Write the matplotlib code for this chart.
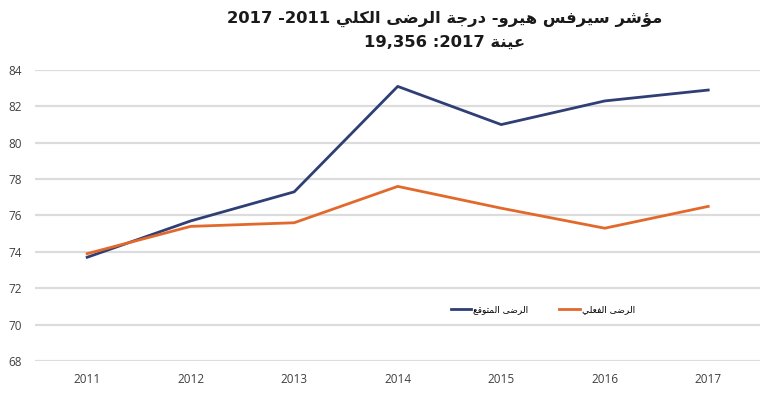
import numpy as np
import matplotlib
matplotlib.use('Agg')
import matplotlib.pyplot as plt

# data
years = ['2011', '2012', '2013', '2014', '2015', '2016', '2017']
expected = [73.7, 75.7, 77.3, 83.1, 81.0, 82.3, 82.9]   # الرضى المتوقع
actual = [73.9, 75.4, 75.6, 77.6, 76.4, 75.3, 76.5]     # الرضى الفعلي
y_ticks = [68, 70, 72, 74, 76, 78, 80, 82, 84]

title_1 = 'مؤشر سيرفس هيرو- درجة الرضى الكلي 2011- 2017'
title_2 = 'عينة 2017: 19,356'
label_expected = 'الرضى المتوقع'
label_actual = 'الرضى الفعلي'

# matplotlib does no arabic shaping, so pick presentation forms by hand
# (isolated, final, initial, medial)
forms = {
    'ا': ('\uFE8D', '\uFE8E'), 'ؤ': ('\uFE85', '\uFE86'),
    'ة': ('\uFE93', '\uFE94'), 'د': ('\uFEA9', '\uFEAA'),
    'ر': ('\uFEAD', '\uFEAE'), 'و': ('\uFEED', '\uFEEE'),
    'ى': ('\uFEEF', '\uFEF0'),
    'ت': ('\uFE95', '\uFE96', '\uFE97', '\uFE98'),
    'ج': ('\uFE9D', '\uFE9E', '\uFE9F', '\uFEA0'),
    'س': ('\uFEB1', '\uFEB2', '\uFEB3', '\uFEB4'),
    'ش': ('\uFEB5', '\uFEB6', '\uFEB7', '\uFEB8'),
    'ض': ('\uFEBD', '\uFEBE', '\uFEBF', '\uFEC0'),
    'ع': ('\uFEC9', '\uFECA', '\uFECB', '\uFECC'),
    'ف': ('\uFED1', '\uFED2', '\uFED3', '\uFED4'),
    'ق': ('\uFED5', '\uFED6', '\uFED7', '\uFED8'),
    'ك': ('\uFED9', '\uFEDA', '\uFEDB', '\uFEDC'),
    'ل': ('\uFEDD', '\uFEDE', '\uFEDF', '\uFEE0'),
    'م': ('\uFEE1', '\uFEE2', '\uFEE3', '\uFEE4'),
    'ن': ('\uFEE5', '\uFEE6', '\uFEE7', '\uFEE8'),
    'ه': ('\uFEE9', '\uFEEA', '\uFEEB', '\uFEEC'),
    'ي': ('\uFEF1', '\uFEF2', '\uFEF3', '\uFEF4'),
}


def shape_word(word):
    out = []
    for i, c in enumerate(word):
        if c not in forms:
            out.append(c)
            continue
        prev = i > 0 and word[i-1] in forms and len(forms[word[i-1]]) == 4
        nxt = (len(forms[c]) == 4 and i < len(word) - 1 and word[i+1] in forms)
        f = forms[c]
        if prev and nxt:
            out.append(f[3])
        elif prev:
            out.append(f[1])
        elif nxt:
            out.append(f[2])
        else:
            out.append(f[0])
    return ''.join(out)


def rtl(text):
    tokens = []
    for tok in text.split(' '):
        if any(c in forms for c in tok):
            tokens.append(shape_word(tok)[::-1])
        else:
            # trailing punctuation goes to the left of the number
            core = tok.rstrip('-:')
            tokens.append(tok[len(core):] + core)
    return ' '.join(tokens[::-1])


plt.rcParams['font.family'] = ['Open Sans', 'DejaVu Sans']

fig = plt.figure(figsize=(7.7, 4.12), dpi=100)
ax = fig.add_axes([0.046, 0.124, 0.941, 0.706])

x = np.arange(len(years))
ax.plot(x, expected, color='#2f3f75', lw=2.0, label=rtl(label_expected))
ax.plot(x, actual, color='#e2692b', lw=2.0, label=rtl(label_actual))

ax.set_xlim(-0.5, len(years) - 0.5)
ax.set_ylim(68, 84)
ax.set_yticks(y_ticks)
ax.set_xticks(x)
ax.set_xticklabels(years)
ax.yaxis.grid(True, color='#dcdcdc', lw=1.6)
ax.set_axisbelow(True)
for s in ax.spines.values():
    s.set_visible(False)
ax.tick_params(length=0, colors='#404040', labelsize=8.5)
ax.tick_params(axis='x', pad=9)
ax.tick_params(axis='y', pad=10)

leg = ax.legend(loc='center', bbox_to_anchor=(0.70, 0.175), ncol=2,
                frameon=False, handlelength=2.3,
                handletextpad=0.15, columnspacing=3.5,
                prop={'family': ['DejaVu Sans'], 'size': 6.5})

fig.text(0.577, 0.955, rtl(title_1), ha='center', va='center',
         fontsize=11.8, fontweight='bold', color='#1a1a1a',
         family=['DejaVu Sans'])
fig.text(0.577, 0.898, rtl(title_2), ha='center', va='center',
         fontsize=11.8, fontweight='bold', color='#1a1a1a',
         family=['DejaVu Sans'])

fig.savefig('out.png', dpi=100)
